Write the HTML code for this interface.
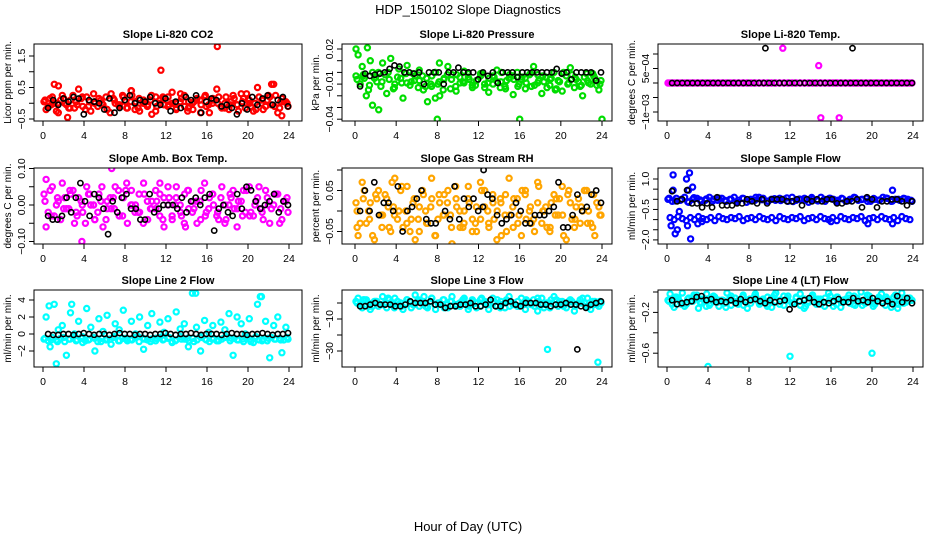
<!DOCTYPE html>
<html><head><meta charset="utf-8"><style>
html,body{margin:0;padding:0;background:#fff;}
svg{display:block;font-family:"Liberation Sans",sans-serif;}
</style></head><body>
<svg id="chart" width="936" height="540" viewBox="0 0 936 540" xmlns="http://www.w3.org/2000/svg">
<text x="468" y="14" text-anchor="middle" font-size="13">HDP_150102  Slope Diagnostics</text>
<text x="468" y="531" text-anchor="middle" font-size="13">Hour of Day (UTC)</text>
</svg>
<script>
// ---------- data (values scaled as noted per panel) ----------
const xTicks=[0,4,8,12,16,20,24];
// P1 CO2 (x100)
const co2A=[5,-10,20,-25,10,0,-15,25,-5,15,-20,5,30,-10,0,20,-30,10,-5,25,-15,5,-20,15,0,-10,25,-25,10,-5,20,0,-15,30,-10,5,-20,15,-5,25,-30,10,0,-15,20,-5,15,-25,5,30,-10,0,20,-20,10,-5,25,-15,5,-10];
const co2B=[-20,15,0,-30,25,-5,10,-15,45,-10,20,-25,5,15,-5,-20,30,0,-10,20,-15,40,5,-25,10,-5,-35,20,0,15,-10,35,-20,5,25,-15,0,10,-30,20,-5,15,45,-10,0,-20,25,-5,30,-15,10,-25,50,0,-10,20,60,-30,15,5];
const co2C=[10,-5,0,15,-15,5,20,-10,0,10,-20,15,-5,5,25,-15,0,10,-10,20,-5,0,15,-25,5,10,-10,0,20,-15,5,-5,15,0,-20,10,25,-10,5,0];
const co2Black=[-15,10,-5,15,5,20,15,-35,10,5,0,-20,15,-30,-15,10,25,0,10,5,20,0,-5,15,-25,5,-15,20,10,25,-30,5,15,10,-10,-5,-15,-35,0,-20,20,-5,15,25,-5,10,20,-10];
const co2Out=[[17,180],[11.5,105],[2.4,-45],[1.1,60],[1.5,55],[23.3,-40],[22.3,60],[8.6,40]];
// P2 Pressure (x1000)
const presA=[-3,-10,-5,-15,0,-8,-12,-2,-6,-14,-4,-9,-1,-11,-7,-13,-3,-5,-10,0,-8,-15,-2,-6,-12,-4,-9,-1,-11,-7,-3,-13,-5,-10,-8,0,-14,-2,-6,-12,-4,-9,-1,-11,-7,-3,-13,-5,-15,-8,0,-10,-2,-6,-12,-4,-9,-1,-11,-7];
const presB=[15,5,-20,10,-5,0,8,-18,12,-10,3,-22,6,-8,-3,2,-15,-25,-12,0,-20,-6,5,-2,-16,-9,1,-4,-13,-7,-1,-10,-17,-3,2,-8,-12,-5,-19,0,-6,-14,-2,5,-9,-18,-4,-11,0,-7,-16,-3,4,-13,-8,-20,-1,-10,-5,-15];
const presC=[-6,-2,-11,-4,-8,0,-13,-5,-9,-1,-7,-12,-3,-10,-5,-14,-2,-8,-6,-11,-1,-9,-4,-13,-7,-3,-10,-5,-12,-2,-8,-6,-14,-1,-9,-4,-11,-7,-3,-10];
const presBlack=[-12,-1,-3,-2,-1,0,3,6,5,0,0,-1,0,-10,0,0,0,-10,0,0,4,0,0,0,-6,0,-3,0,-9,0,0,0,-4,0,0,0,0,0,0,0,3,-1,0,-6,0,0,0,0,-7,0];
const presOut=[[0.1,20],[1.2,21],[1.7,-28],[2.3,-32],[8,-40],[16,-40],[24,-40],[7.8,-22],[8.2,8],[0.8,-3]];
// P3 Li-820 Temp (x1e-4)
const tempA=[0,0,0,0,0,0,0,0,0,0,0,0,0,0,0,0,0,0,0,0,0,0,0,0,0,0,0,0,0,0,0,0,0,0,0,0,0,0,0,0,0,0,0,0,0,0,0,0,0,0,0,0,0,0,0,0,0,0,0,0];
const tempB=[0,0,0,0,0,0,0,0,0,0,0,0,0,0,0,0,0,0,0,0,0,0,0,0,0,0,0,0,0,0,0,0,0,0,0,0,0,0,0,0,0,0,0,0,0,0,0,0,0,0,0,0,0,0,0,0,0,0,0,0];
const tempC=[];
const tempBlack=[0,0,0,0,0,0,0,0,0,0,0,0,0,0,0,0,0,0,0,0,0,0,0,0,0,0,0,0,0,0,0,0,0,0,0,0,0,0,0,0,0,0,0,0,0,0,0,0];
const tempOut=[[11.3,12],[14.8,6],[15,-12],[16.8,-12]];
const tempBlackOut=[[9.6,12],[18.1,12]];
// P4 Amb Box Temp (x100)
const ambA=[3,-2,5,0,-4,2,-1,4,-3,1,-5,3,0,-2,5,-4,2,-1,4,-3,6,0,-2,3,-5,1,-1,4,-3,2,0,-4,5,-2,3,-1,1,-5,4,-3,2,0,-2,5,-4,3,-1,1,-3,4,-2,0,5,-4,2,-1,3,-5,1,-2];
const ambB=[-6,4,-3,1,6,-1,3,-5,2,-2,5,0,-4,3,-6,1,-1,5,-3,2,-5,4,0,-2,6,-4,1,-1,3,-6,5,-3,2,0,-5,4,-2,1,-4,6,-1,3,-3,2,-5,0,4,-6,1,-2,5,-3,2,-1,4,-5,0,3,-4,1];
const ambC=[1,-3,2,-1,4,-2,0,3,-4,1,-1,2,-3,4,0,-2,3,-1,1,-4,2,0,-3,4,-1,1,-2,3,-4,0,2,-1,4,-3,1,-2,0,3,-1,2];
const ambBlack=[-3,-4,-4,-3,2,-2,2,6,1,-3,3,2,-1,-8,1,-2,2,3,-1,-1,-4,-4,3,-2,-1,0,0,0,-1,2,-2,1,2,0,2,3,-7,-1,0,-2,-3,3,-1,5,4,1,-1,0,1,3,-2,1,0];
const ambOut=[[3.8,-10],[6.7,10],[0.3,7],[13.9,-6],[11.4,6]];
// P5 Gas Stream RH (x100)
const rhA=[2,-3,5,0,-6,3,-1,4,-4,1,-2,6,0,-5,3,-2,5,-3,1,-6,4,-1,2,-4,6,0,-3,3,-5,1,-2,5,-4,2,0,-6,4,-1,3,-3,5,-2,1,-5,6,0,-4,2,-1,3,-6,4,-2,1,-3,5,0,-4,2,-1];
const rhB=[-6,7,-3,2,-7,5,-1,3,-5,8,0,-4,6,-2,-7,1,4,-3,8,-6,2,-1,5,-8,3,-4,0,6,-2,-5,7,1,-3,4,-7,2,-1,8,-4,3,-6,5,0,-2,7,-3,1,-5,4,-1,6,-7,2,-4,3,0,5,-3,-6,1];
const rhC=[0,3,-2,4,-4,1,-1,5,-3,2,-5,0,3,-2,4,-1,1,-4,2,-3,5,0,-2,3,-5,1,-1,4,-3,2,0,-4,3,-1,5,-2,1,-3,4,-1];
const rhBlack=[0,5,0,7,-1,2,2,0,6,-5,0,1,3,5,-2,-3,-3,-9,0,-2,6,-2,3,1,3,0,1,4,3,-1,-3,-2,-1,2,0,-3,-3,-1,-1,-1,0,1,7,-4,-4,-1,4,0,1,4,5,2];
const rhOut=[[12.6,-9],[0.2,-4],[3.6,7]];
const rhBlackOut=[[12.5,10]];
// P6 Sample Flow (x100)
const sfA=[0,-10,5,-5,10,-15,0,5,-10,-5,10,0,-5,5,-10,0,10,-5,5,-15,0,-5,10,5,-10,0,-5,5,0,-10,10,-5,0,5,-15,0,-5,10,-10,5,0,-5,5,-10,0,10,-5,0,5,-10,0,-5,10,5,-10,0,-5,5,0,-10];
const sfB=[-90,-100,-85,-95,-105,-90,-100,-85,-95,-100,-90,-105,-85,-95,-100,-90,-95,-85,-105,-95,-90,-100,-85,-95,-100,-90,-105,-85,-95,-100,-90,-95,-85,-105,-95,-90,-100,-85,-95,-100,-90,-105,-85,-95,-100,-90,-95,-85,-105,-95,-90,-100,-85,-95,-100,-90,-105,-85,-95,-100];
const sfC=[5,-8,0,-12,8,-3,2,-10,6,-5,0,-15,4,-7,10,-2,-9,3,-6,7,-11,1,-4,9,-8,0,5,-13,2,-6,8,-1,-10,4,-3,6,-9,0,3,-5];
const sfBlack=[40,-10,0,45,-20,-20,-40,-20,-40,10,-30,-30,-30,-20,-20,0,-10,-20,0,-20,0,0,0,-10,-10,0,-30,0,-10,0,-10,0,0,-20,-20,-10,-10,0,-40,10,0,-40,-10,-10,0,0,-10,-30,-10];
const sfOut=[[0.6,120],[1.9,100],[2.2,130],[2.1,45],[1,-150],[0.8,-170],[0.4,-130],[2,-130],[2.3,-195],[3,-120],[3.4,-110],[0.6,45],[22,45],[19.6,-120],[22,-120],[16,-110],[1.2,-60],[2.5,60]];
// P7 Line 2 Flow (x10)
const l2A=[-6,-8,-4,-7,-5,-9,-6,-3,-7,-5,-8,-6,-4,-9,-5,-7,-6,-3,-8,-5,-7,-6,-4,-9,-5,-7,-6,-8,-4,-6,-5,-9,-7,-3,-6,-8,-5,-7,-4,-6,-9,-5,-7,-6,-3,-8,-5,-7,-6,-4,-9,-5,-7,-6,-8,-4,-6,-5,-7,-6];
const l2B=[20,-15,35,5,10,-25,25,0,15,-10,30,8,-20,18,3,22,-12,12,5,28,-8,15,0,20,-18,10,24,-5,14,2,18,-10,26,6,12,-15,48,8,-20,16,2,10,-8,14,5,24,-25,20,12,0,18,-10,35,44,15,-28,10,20,-22,8];
const l2C=[-5,-7,-9,-4,-6,-8,-3,-7,-5,-9,-6,-4,-8,-5,-7,-3,-6,-9,-5,-7,-4,-8,-6,-5,-9,-3,-7,-6,-8,-4,-5,-7,-9,-6,-3,-8,-5,-6,-7,-4];
const l2Black=[0,-1,-1,0,0,-1,0,1,0,-1,0,0,-1,0,1,0,0,-1,0,0,-1,0,0,1,0,-1,0,0,1,0,-1,0,0,0,-1,0,1,0,0,-1,0,0,1,0,-1,0,0,1];
const l2Out=[[1.3,-35],[0.6,33],[2.8,35],[14.9,48],[21.2,44]];
// P8 Line 3 Flow
const l3A=[1,-1,2,0,-2,1,-1,0,2,-1,1,-2,0,1,-1,2,0,-2,1,-1,0,2,-1,1,-2,0,1,-1,2,0,-2,1,-1,0,2,-1,1,-2,0,1,-1,2,0,-2,1,-1,0,2,-1,1,-2,0,1,-1,2,0,-2,1,-1,0];
const l3B=[3,-3,2,-4,1,-2,4,-3,0,3,-1,-4,2,-3,5,-2,1,-3,3,-4,0,2,-3,4,-1,-2,3,-4,1,-3,2,0,-4,3,-2,1,-3,4,-1,-2,3,-4,0,2,-5,3,-1,-3,4,-2,1,-3,2,-5,0,3,-2,-4,1,-2];
const l3C=[0,2,-2,1,-1,3,-3,0,2,-1,1,-2,3,0,-3,1,-1,2,-2,0,3,-1,1,-3,2,0,-2,1,-1,3,-3,0,2,-1,1,-2,0,3,-1,1];
const l3Black=[-2,-2,-1,0,-1,-1,-1,-2,-2,-1,1,0,0,0,1,-1,-1,-3,-2,-2,-1,-1,0,-2,-2,-1,2,-2,-2,0,1,-1,-2,0,0,0,-1,-1,-2,-1,-1,0,-1,-1,-2,-3,-1,0,1];
const l3Out=[[18.7,-29],[23.6,-37],[6.7,4]];
const l3BlackOut=[[21.6,-29]];
// P9 Line 4 (LT) Flow (x100)
const l4A=[-8,-12,-5,-10,-14,-6,-9,-3,-11,-7,-13,-4,-10,-8,-15,-6,-9,-12,-5,-8,-11,-3,-10,-7,-14,-6,-9,-12,-4,-8,-11,-5,-13,-7,-10,-3,-9,-12,-6,-8,-14,-5,-10,-7,-11,-4,-9,-13,-6,-8,-12,-5,-10,-7,-15,-3,-9,-11,-6,-8];
const l4B=[-2,-15,-6,-1,-12,-9,-4,-16,-7,-2,-11,-5,-14,-8,-1,-13,-6,-10,-3,-16,-7,-2,-12,-9,-5,-15,-1,-8,-13,-4,-11,-6,-2,-16,-9,-3,-12,-7,-14,-1,-10,-5,-15,-8,-3,-12,-6,0,-11,-4,-14,-7,-2,-13,-9,-5,-16,-1,-10,-6];
const l4C=[-9,-5,-12,-7,-3,-10,-14,-6,-8,-11,-4,-9,-13,-7,-5,-10,-12,-3,-8,-6,-11,-9,-14,-5,-7,-10,-4,-12,-8,-6,-13,-9,-3,-11,-7,-5,-10,-12,-6,-8];
const l4Black=[-8,-12,-11,-10,-9,-5,-4,-8,-7,-10,-9,-10,-8,-11,-7,-10,-8,-7,-9,-11,-8,-10,-9,-8,-17,-12,-9,-8,-6,-10,-12,-10,-11,-9,-7,-10,-10,-6,-9,-8,-10,-6,-9,-11,-9,-12,-4,-10,-6,-11];
const l4Out=[[4,-73],[12,-63],[20,-60]];

// ---------- layout ----------
const cols=[{left:34,right:302,x0:43,x24:289},{left:342,right:612,x0:355,x24:602},{left:658,right:923,x0:667,x24:913}];
const rows=[{top:44,bottom:121},{top:168,bottom:244},{top:290,bottom:367}];
const panels=[
 {name:'co2',title:'Slope Li-820 CO2',ylab:'Licor ppm per min.',col:'#ff0000',c:0,r:0,refV:150,refPx:56,ppu:0.315,ticks:[150,100,50,0,-50],labels:{'150':'1.5','50':'0.5','-50':'\u22120.5'},A:co2A,B:co2B,C:co2C,K:co2Black,O:co2Out,KO:[]},
 {name:'pressure',title:'Slope Li-820 Pressure',ylab:'kPa per min.',col:'#00dd00',c:1,r:0,refV:20,refPx:49,ppu:1.17,ticks:[20,10,0,-10,-20,-30,-40],labels:{'20':'0.02','-10':'\u22120.01','-40':'\u22120.04'},A:presA,B:presB,C:presC,K:presBlack,O:presOut,KO:[]},
 {name:'li820-temp',title:'Slope Li-820 Temp.',ylab:'degrees C per min.',col:'#ff00ff',c:2,r:0,refV:0,refPx:83,ppu:2.9,ticks:[10,5,0,-5,-10],labels:{'5':'5e\u221204','-10':'\u22121e\u221203'},A:tempA,B:tempB,C:tempC,K:tempBlack,O:tempOut,KO:tempBlackOut},
 {name:'amb-box-temp',title:'Slope Amb. Box Temp.',ylab:'degrees C per min.',col:'#ff00ff',c:0,r:1,refV:0,refPx:205,ppu:3.65,ticks:[10,5,0,-5,-10],labels:{'10':'0.10','0':'0.00','-10':'\u22120.10'},A:ambA,B:ambB,C:ambC,K:ambBlack,O:ambOut,KO:[]},
 {name:'gas-stream-rh',title:'Slope Gas Stream RH',ylab:'percent per min.',col:'#ffa500',c:1,r:1,refV:0,refPx:211,ppu:4.1,ticks:[10,5,0,-5],labels:{'5':'0.05','-5':'\u22120.05'},A:rhA,B:rhB,C:rhC,K:rhBlack,O:rhOut,KO:rhBlackOut},
 {name:'sample-flow',title:'Slope Sample Flow',ylab:'ml/min per min.',col:'#0000ff',c:2,r:1,refV:100,refPx:179,ppu:0.203,ticks:[100,50,0,-50,-100,-150,-200],labels:{'100':'1.0','-50':'\u22120.5','-200':'\u22122.0'},A:sfA,B:sfB,C:sfC,K:sfBlack,O:sfOut,KO:[]},
 {name:'line2-flow',title:'Slope Line 2 Flow',ylab:'ml/min per min.',col:'#00ffff',c:0,r:2,refV:0,refPx:334,ppu:0.85,ticks:[40,20,0,-20],labels:{'40':'4','20':'2','0':'0','-20':'\u22122'},A:l2A,B:l2B,C:l2C,K:l2Black,O:l2Out,KO:[]},
 {name:'line3-flow',title:'Slope Line 3 Flow',ylab:'ml/min per min.',col:'#00ffff',c:1,r:2,refV:0,refPx:303,ppu:1.6,ticks:[0,-10,-20,-30],labels:{'-10':'\u221210','-30':'\u221230'},A:l3A,B:l3B,C:l3C,K:l3Black,O:l3Out,KO:l3BlackOut},
 {name:'line4-flow',title:'Slope Line 4 (LT) Flow',ylab:'ml/min per min.',col:'#00ffff',c:2,r:2,refV:0,refPx:292,ppu:1.02,ticks:[0,-20,-40,-60],labels:{'-20':'\u22120.2','-60':'\u22120.6'},A:l4A,B:l4B,C:l4C,K:l4Black,O:l4Out,KO:[]}
];
const NS='http://www.w3.org/2000/svg';
const svg=document.getElementById('chart');
function mk(tag,attrs,parent){const e=document.createElementNS(NS,tag);for(const k in attrs)e.setAttribute(k,attrs[k]);parent.appendChild(e);return e;}
panels.forEach(p=>{
 const C=cols[p.c],R=rows[p.r];
 const g=mk('g',{},svg);
 
 
 const xs=h=>C.x0+(C.x24-C.x0)*h/24;
 const ys=v=>p.refPx-(v-p.refV)*p.ppu;
 const clip='clip-'+p.name;
 const cp=mk('clipPath',{id:clip},g);
 mk('rect',{x:C.left,y:R.top,width:C.right-C.left,height:R.bottom-R.top},cp);
 const t=mk('text',{x:(C.left+C.right)/2,y:R.top-6,'text-anchor':'middle','font-size':'11','font-weight':'bold'},g);
 t.textContent=p.title;
 
 
 const yl=mk('text',{x:0,y:0,'text-anchor':'middle','font-size':'10',transform:`translate(${C.left-23},${(R.top+R.bottom)/2}) rotate(-90)`},g);
 yl.textContent=p.ylab;
 
 
 const marks=mk('g',{'clip-path':`url(#${clip})`,fill:'none'},g);
 
 
 const dot=(h,v,col,sw)=>{const c=mk('circle',{cx:xs(h).toFixed(1),cy:ys(v).toFixed(1),r:2.6,stroke:col,'stroke-width':sw},marks);
  
  };
 const series=[[p.A,0.1],[p.B,0.3],[p.C,0.2]];
 series.forEach(([arr,off])=>{const n=arr.length;arr.forEach((v,i)=>dot(off+i*(24-2*off)/(n-1),v,p.col,2.2));});
 p.O.forEach(o=>dot(o[0],o[1],p.col,2.2));
 const nK=p.K.length;
 p.K.forEach((v,i)=>dot(0.5+i*23.4/(nK-1),v,'#000',1.6));
 p.KO.forEach(o=>dot(o[0],o[1],'#000',1.6));
 const box=mk('rect',{x:C.left,y:R.top,width:C.right-C.left,height:R.bottom-R.top,fill:'none',stroke:'#000','stroke-width':'1'},g);
 
 
 const xa=mk('g',{},g);
 
 
 mk('line',{x1:xs(0),x2:xs(24),y1:R.bottom,y2:R.bottom,stroke:'#000'},xa);
 xTicks.forEach(h=>{
  mk('line',{x1:xs(h),x2:xs(h),y1:R.bottom,y2:R.bottom+5,stroke:'#000'},xa);
  const tl=mk('text',{x:xs(h),y:R.bottom+18,'text-anchor':'middle','font-size':'10.5'},xa);
  tl.textContent=h;
  
  
 });
 const ya=mk('g',{},g);
 
 
 const tv=p.ticks;
 mk('line',{x1:C.left,x2:C.left,y1:ys(tv[0]),y2:ys(tv[tv.length-1]),stroke:'#000'},ya);
 tv.forEach(v=>{
  mk('line',{x1:C.left-5,x2:C.left,y1:ys(v),y2:ys(v),stroke:'#000'},ya);
  const lab=p.labels[String(v)];
  if(lab!==undefined){
   const tl=mk('text',{x:0,y:0,'text-anchor':'middle','font-size':'10.5',transform:`translate(${C.left-9},${ys(v)}) rotate(-90)`},ya);
   tl.textContent=lab;
   
   
  }
 });
});
</script>
</body></html>
